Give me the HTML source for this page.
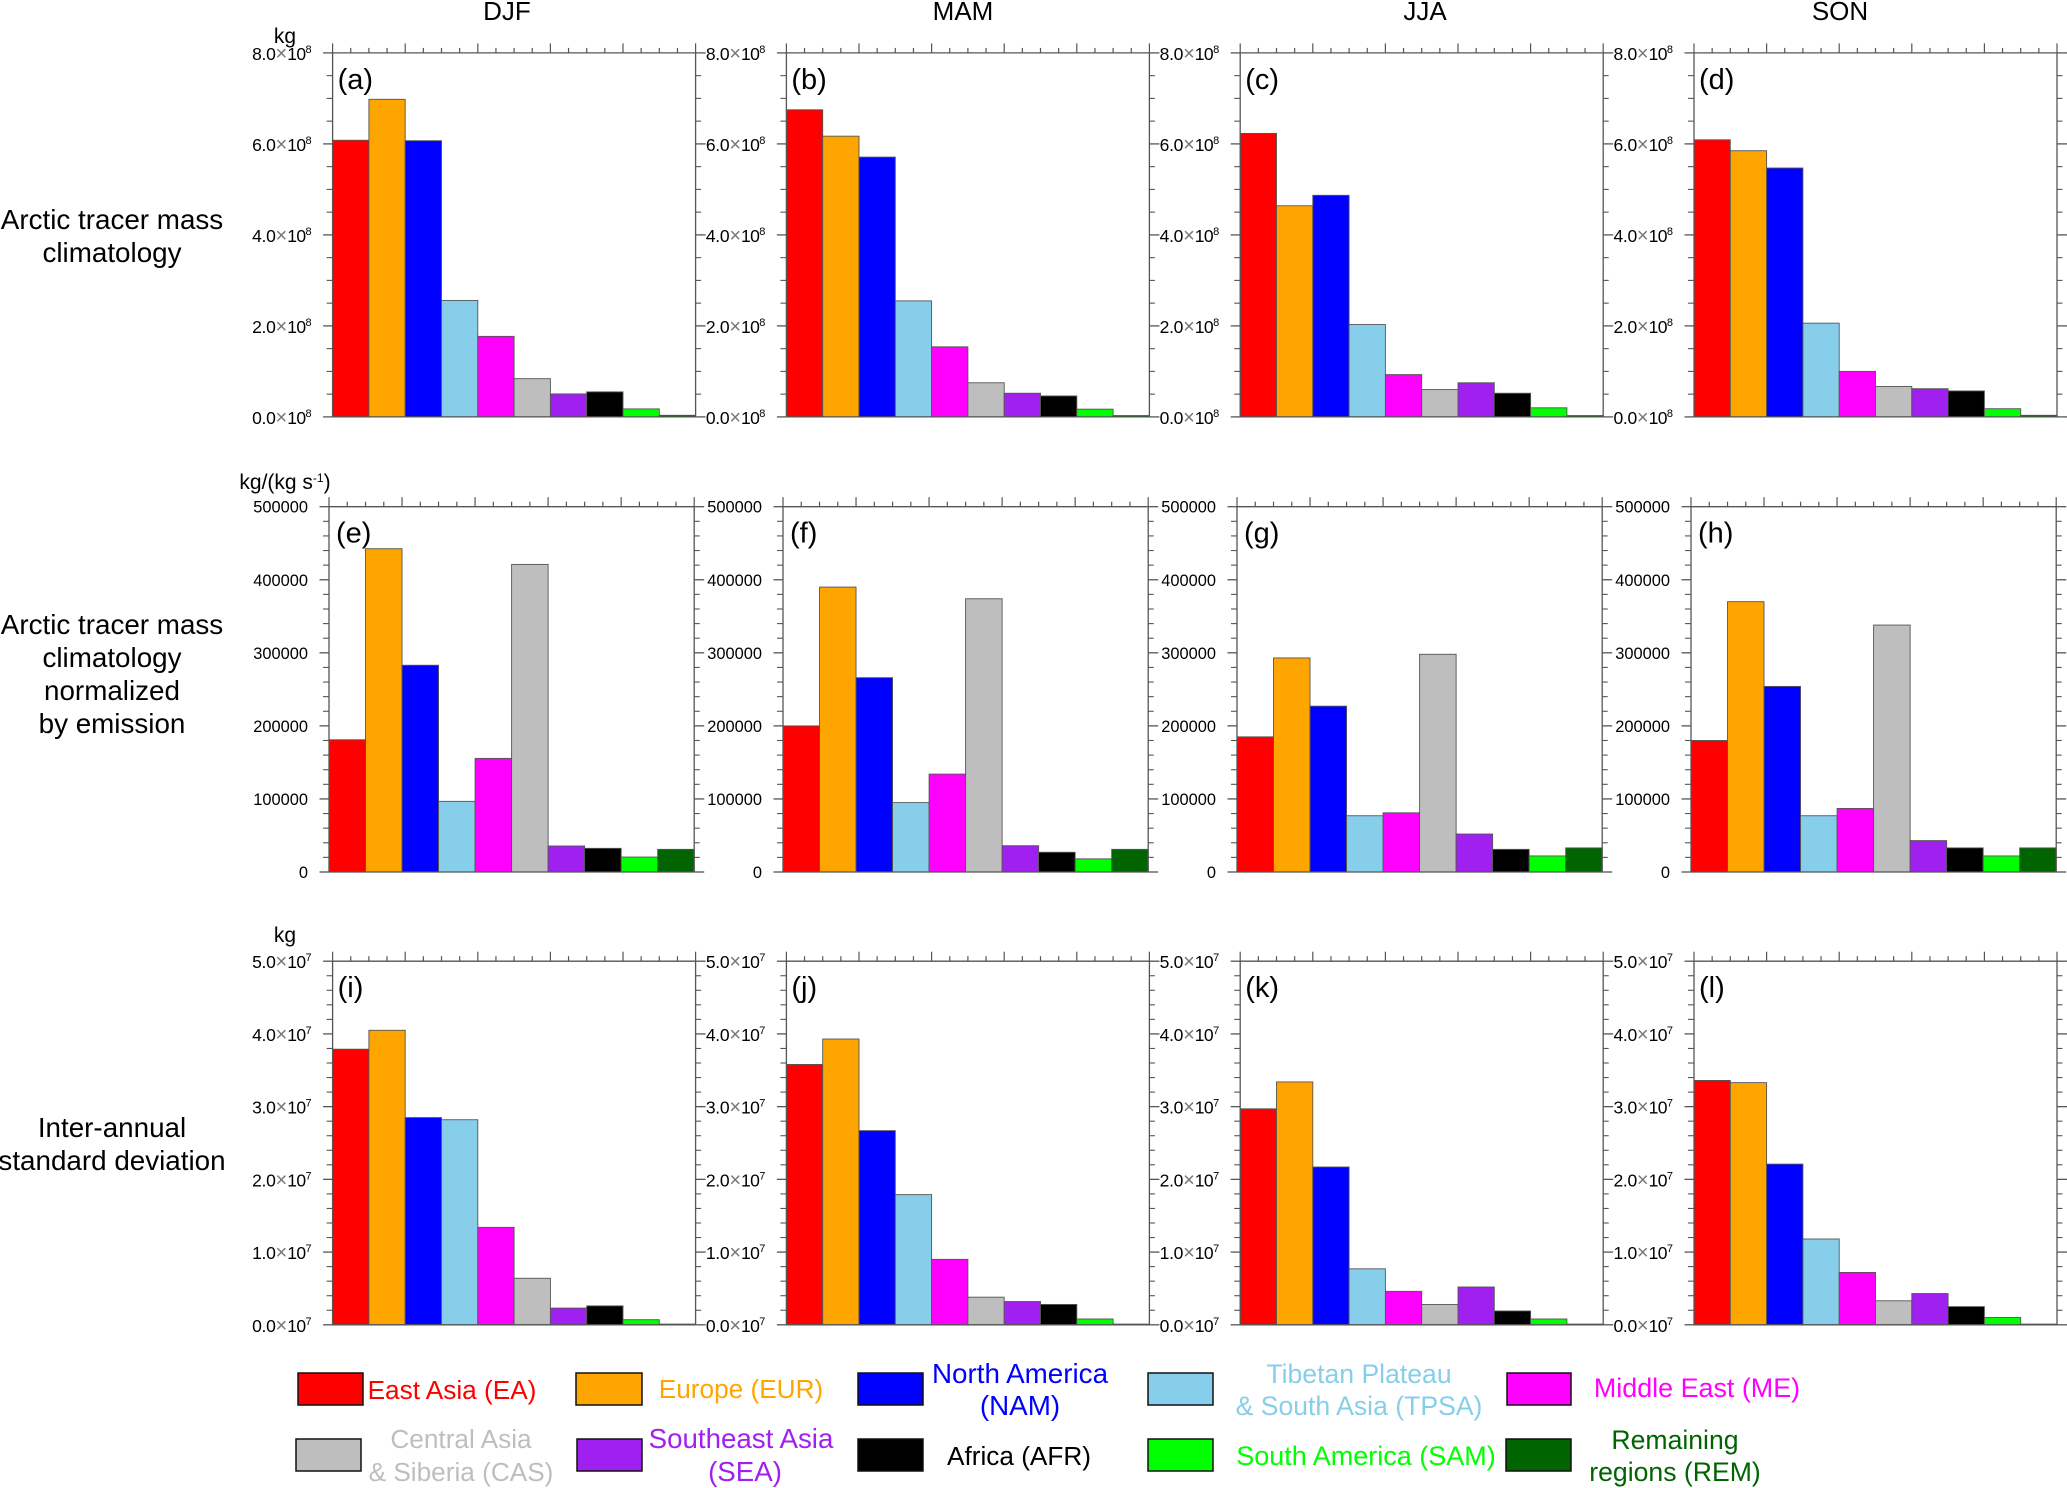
<!DOCTYPE html>
<html lang="en">
<head>
<meta charset="utf-8">
<title>Arctic tracer mass by source region and season</title>
<style>
html,body{margin:0;padding:0;background:#fff;width:2067px;height:1488px;overflow:hidden}
svg{display:block;font-family:"Liberation Sans",Arial,sans-serif}
.col-title{font-size:26px;text-anchor:middle;fill:#000}
.row-label{font-size:27.8px;text-anchor:middle;fill:#000}
.unit{font-size:21px;text-anchor:middle;fill:#000}
.legend-text{font-size:26.2px;text-anchor:middle}
.swatch{stroke:#111;stroke-width:1.5}
</style>
</head>
<body>
<svg id="chart" xmlns="http://www.w3.org/2000/svg" width="2067" height="1488" viewBox="0 0 2067 1488">
  <g>
    <text class="col-title" x="507" y="20">DJF</text>
    <text class="col-title" x="963" y="20">MAM</text>
    <text class="col-title" x="1425" y="20">JJA</text>
    <text class="col-title" x="1840" y="20">SON</text>
  </g>
  <g>
    <text class="row-label"><tspan x="112" y="229">Arctic tracer mass</tspan><tspan x="112" y="262">climatology</tspan></text>
    <text class="row-label"><tspan x="112" y="634">Arctic tracer mass</tspan><tspan x="112" y="667">climatology</tspan><tspan x="112" y="700">normalized</tspan><tspan x="112" y="733">by emission</tspan></text>
    <text class="row-label"><tspan x="112" y="1137">Inter-annual</tspan><tspan x="112" y="1170">standard deviation</tspan></text>
  </g>
  <g>
    <text class="unit" x="285" y="43">kg</text>
    <text class="unit" x="285" y="489">kg/(kg s<tspan font-size="12" dy="-7">-1</tspan><tspan dy="7">)</tspan></text>
    <text class="unit" x="285" y="942">kg</text>
  </g>
  <g id="panels"></g>
  <g>
    <g>
      <rect class="swatch" x="298" y="1373" width="65" height="32" fill="#ff0000"/>
      <text class="legend-text" fill="#ff0000" x="452" y="1399">East Asia (EA)</text>
    </g>
    <g>
      <rect class="swatch" x="576" y="1373" width="66" height="32" fill="#ffa500"/>
      <text class="legend-text" fill="#ffa500" x="741" y="1398">Europe (EUR)</text>
    </g>
    <g>
      <rect class="swatch" x="858" y="1373" width="65" height="32" fill="#0000ff"/>
      <text class="legend-text" style="font-size:27.8px" fill="#0000ff"><tspan x="1020" y="1383">North America</tspan><tspan x="1020" y="1415">(NAM)</tspan></text>
    </g>
    <g>
      <rect class="swatch" x="1148" y="1373" width="65" height="32" fill="#87ceeb"/>
      <text class="legend-text" style="font-size:26.6px" fill="#87ceeb"><tspan x="1359" y="1383">Tibetan Plateau</tspan><tspan x="1359" y="1415">&amp; South Asia (TPSA)</tspan></text>
    </g>
    <g>
      <rect class="swatch" x="1507" y="1373" width="64" height="32" fill="#ff00ff"/>
      <text class="legend-text" style="font-size:26.9px" fill="#ff00ff" x="1697" y="1397">Middle East (ME)</text>
    </g>
    <g>
      <rect class="swatch" x="296" y="1439" width="65" height="32" fill="#bebebe"/>
      <text class="legend-text" fill="#bebebe"><tspan x="461" y="1448">Central Asia</tspan><tspan x="461" y="1481">&amp; Siberia (CAS)</tspan></text>
    </g>
    <g>
      <rect class="swatch" x="577" y="1439" width="65" height="32" fill="#a020f0"/>
      <text class="legend-text" style="font-size:27.7px" fill="#a020f0"><tspan x="741" y="1448">Southeast Asia</tspan><tspan x="745" y="1481">(SEA)</tspan></text>
    </g>
    <g>
      <rect class="swatch" x="858" y="1439" width="65" height="32" fill="#000000"/>
      <text class="legend-text" fill="#000000" x="1019" y="1465">Africa (AFR)</text>
    </g>
    <g>
      <rect class="swatch" x="1148" y="1439" width="65" height="32" fill="#00ff00"/>
      <text class="legend-text" style="font-size:27px" fill="#00ff00" x="1366" y="1465">South America (SAM)</text>
    </g>
    <g>
      <rect class="swatch" x="1506" y="1439" width="65" height="32" fill="#006400"/>
      <text class="legend-text" style="font-size:26.6px" fill="#006400"><tspan x="1675" y="1449">Remaining</tspan><tspan x="1675" y="1481">regions (REM)</tspan></text>
    </g>
  </g>
</svg>
<script>
// Categories
var regions = ['EA','EUR','NAM','TPSA','ME','CAS','SEA','AFR','SAM','REM'];
var regionColors = ['#ff0000','#ffa500','#0000ff','#87ceeb','#ff00ff','#bebebe','#a020f0','#000000','#00ff00','#006400'];
var panelLetters = ['a','b','c','d','e','f','g','h','i','j','k','l'];

// Row 1: Arctic tracer mass climatology (units of 1e8 kg)
var massDJF = [6.08,6.98,6.07,2.56,1.77,0.84,0.505,0.55,0.176,0.035];
var massMAM = [6.75,6.17,5.71,2.55,1.54,0.75,0.52,0.46,0.17,0.03];
var massJJA = [6.23,4.64,4.87,2.03,0.93,0.60,0.75,0.52,0.20,0.03];
var massSON = [6.09,5.85,5.47,2.06,1.00,0.67,0.62,0.57,0.18,0.035];
var massTicks = [0,2,4,6,8];
var massTickLabels = ['0.0','2.0','4.0','6.0','8.0'];
var massExponent = '8';

// Row 2: normalized by emission (kg/(kg s-1))
var normDJF = [181000,442500,283000,96700,155500,421000,35600,32400,20500,31000];
var normMAM = [200000,390000,266000,95000,134000,374000,36000,27000,18000,31000];
var normJJA = [185000,293000,227000,77000,81000,298000,52000,31000,22000,33000];
var normSON = [180000,370000,254000,77000,87000,338000,43000,33000,22000,33000];
var normTicks = [0,100000,200000,300000,400000,500000];
var normTickLabels = ['0','100000','200000','300000','400000','500000'];

// Row 3: inter-annual standard deviation (units of 1e7 kg)
var stdDJF = [3.79,4.05,2.85,2.82,1.34,0.64,0.23,0.26,0.07,0.01];
var stdMAM = [3.58,3.93,2.67,1.79,0.90,0.38,0.32,0.28,0.08,0.01];
var stdJJA = [2.97,3.34,2.17,0.77,0.46,0.28,0.52,0.19,0.08,0.01];
var stdSON = [3.36,3.33,2.21,1.18,0.72,0.33,0.43,0.25,0.10,0.01];
var stdTicks = [0,1,2,3,4,5];
var stdTickLabels = ['0.0','1.0','2.0','3.0','4.0','5.0'];
var stdExponent = '7';

var SVGNS = 'http://www.w3.org/2000/svg';
var AXIS = '#555';

function mk(tag, attrs, parent) {
  var el = document.createElementNS(SVGNS, tag);
  for (var k in attrs) el.setAttribute(k, attrs[k]);
  parent.appendChild(el);
  return el;
}
function line(x1, y1, x2, y2, width, parent) {
  return mk('line', {x1:x1, y1:y1, x2:x2, y2:y2, stroke:AXIS, 'stroke-width':width}, parent);
}
function tickLabel(x, y, text, exponent, parent) {
  var t = mk('text', {x:x, y:y, 'text-anchor':'end', 'font-size':exponent ? 17.5 : 16.4, fill:'#000'}, parent);
  
  
  if (exponent) {
    var a = mk('tspan', {'letter-spacing':-0.3}, t);
    a.textContent = text;
    var b = mk('tspan', {fill:'#777', 'font-size':20}, t);
    b.textContent = '\u00d7';
    var c = mk('tspan', {'letter-spacing':-0.6}, t);
    c.textContent = '10';
    var d = mk('tspan', {'font-size':11, dy:-7}, t);
    d.textContent = exponent;
  } else {
    t.textContent = text;
  }
}

function drawPanel(opts) {
  var left = opts.left, right = opts.right, top = opts.top, bottom = opts.bottom;
  var values = opts.values, ticks = opts.ticks, labels = opts.labels;
  var yMax = ticks[ticks.length - 1];
  function yScale(v) { return bottom - (v / yMax) * (bottom - top); }
  function xScale(i) { return left + (i / regions.length) * (right - left); }

  var g = mk('g', {}, document.getElementById('panels'));
  
  

  values.forEach(function (v, i) {
    var y = yScale(v);
    var r = mk('rect', {x:xScale(i), y:y, width:xScale(i + 1) - xScale(i), height:bottom - y,
      fill:regionColors[i], stroke:'#555', 'stroke-width':0.9}, g);
    
    
  });

  var frame = mk('g', {}, g);
  
  
  line(left, top, right, top, 1.3, frame);
  line(left, bottom, right, bottom, 1.3, frame);
  line(left, top, left, bottom, 1.3, frame);
  line(right, top, right, bottom, 1.3, frame);

  // top ticks: major every 2 bars, minor every half bar
  for (var q = 0; q <= regions.length * 2; q++) {
    var x = xScale(q / 2);
    line(x, top, x, top - (q % 4 === 0 ? 9.5 : 5), 1.2, frame);
  }

  // y ticks: major from array, minor subdivisions between them
  ticks.forEach(function (tv, i) {
    var y = yScale(tv);
    line(left - 9.5, y, left, y, 1.3, frame);
    line(right, y, right + 10, y, 1.3, frame);
    if (i < ticks.length - 1) {
      var step = (ticks[i + 1] - tv) / opts.minorDivs;
      for (var m = 1; m < opts.minorDivs; m++) {
        var ym = yScale(tv + m * step);
        line(left - 6, ym, left, ym, 1.1, frame);
        line(right, ym, right + 5.5, ym, 1.1, frame);
      }
    }
    tickLabel(left - 21, y + opts.labelDy, labels[i], opts.exponent, frame);
  });

  var tag = mk('text', {x:left + opts.letterDx, y:top + 36, 'font-size':29, fill:'#000'}, g);
  
  
  tag.textContent = '(' + opts.letter + ')';
}

var rowValues = [
  [massDJF, massMAM, massJJA, massSON],
  [normDJF, normMAM, normJJA, normSON],
  [stdDJF, stdMAM, stdJJA, stdSON]
];
var rowTicks = [massTicks, normTicks, stdTicks];
var rowLabels = [massTickLabels, normTickLabels, stdTickLabels];
var rowExponents = [massExponent, null, stdExponent];
var rowMinorDivs = [4, 5, 5];

function rowTop(r) { return r === 0 ? 52.9 : r === 1 ? 506.7 : 961.2; }
function rowBottom(r) { return r === 0 ? 416.9 : r === 1 ? 872 : 1324.8; }
function colLeft(r, c) { return (r === 1 ? 329 : 332.6) + c * (r === 1 ? 454 : 453.8); }
function panelWidth(r) { return r === 1 ? 365.2 : 363; }

for (var r = 0; r < 3; r++) {
  for (var c = 0; c < 4; c++) {
    drawPanel({
      letter: panelLetters[r * 4 + c],
      left: colLeft(r, c),
      right: colLeft(r, c) + panelWidth(r),
      top: rowTop(r),
      bottom: rowBottom(r),
      values: rowValues[r][c],
      ticks: rowTicks[r],
      labels: rowLabels[r],
      exponent: rowExponents[r],
      labelDy: r === 1 ? 6 : 7,
      minorDivs: rowMinorDivs[r],
      letterDx: r === 1 ? 7 : 5
    });
  }
}
</script>
</body>
</html>
